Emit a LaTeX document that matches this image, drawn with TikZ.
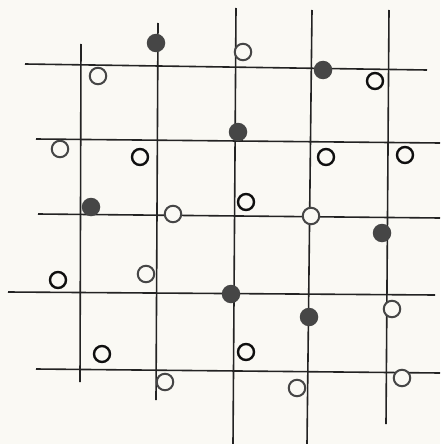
\documentclass[tikz,border=0pt]{standalone}
\definecolor{paper}{RGB}{250,249,244}
\definecolor{linec}{RGB}{35,35,35}
\definecolor{fullc}{RGB}{70,70,70}
\definecolor{openc}{RGB}{15,15,15}
\definecolor{grayc}{RGB}{70,70,70}
\begin{document}
\begin{tikzpicture}[x=1pt,y=-1pt,
  gridline/.style={draw=linec,line width=1.6pt},
  dotfull/.style={circle,fill=fullc,minimum size=18.5pt,inner sep=0pt},
  dotopen/.style={circle,draw=openc,line width=2.4pt,fill=paper,minimum size=16pt,inner sep=0pt},
  dotgray/.style={circle,draw=grayc,line width=2pt,fill=paper,minimum size=16.5pt,inner sep=0pt}]
\fill[paper] (0,0) rectangle (440,444);
\useasboundingbox (0,0) rectangle (440,444);
% horizontal lines
\draw[gridline] (25,64) -- (427,70);
\draw[gridline] (36,139) -- (440,143);
\draw[gridline] (38,214) -- (440,218);
\draw[gridline] (8,292) -- (435,295);
\draw[gridline] (36,369) -- (440,373);
% vertical lines
\draw[gridline] (81,44) -- (80,382);
\draw[gridline] (158,23) -- (156,400);
\draw[gridline] (236,8) -- (233,444);
\draw[gridline] (312,10) -- (307,444);
\draw[gridline] (389,10) -- (386,424);
% filled dots
\node[dotfull] (f1) at (156,43) {};
\node[dotfull] (f2) at (323,70) {};
\node[dotfull] (f3) at (238,132) {};
\node[dotfull] (f4) at (91,207) {};
\node[dotfull] (f5) at (382,233) {};
\node[dotfull] (f6) at (231,294) {};
\node[dotfull] (f7) at (309,317) {};
% open dots
\node[dotgray] (o1) at (98,76) {};
\node[dotgray] (o2) at (243,52) {};
\node[dotopen] (o3) at (375,81) {};
\node[dotgray] (o4) at (60,149) {};
\node[dotopen] (o5) at (140,157) {};
\node[dotopen] (o6) at (326,157) {};
\node[dotopen] (o7) at (405,155) {};
\node[dotgray] (o8) at (173,214) {};
\node[dotopen] (o9) at (246,202) {};
\node[dotgray] (o10) at (311,216) {};
\node[dotopen] (o11) at (58,280) {};
\node[dotgray] (o12) at (146,274) {};
\node[dotopen] (o13) at (102,354) {};
\node[dotgray] (o14) at (165,382) {};
\node[dotopen] (o15) at (246,352) {};
\node[dotgray] (o16) at (297,388) {};
\node[dotgray] (o17) at (392,309) {};
\node[dotgray] (o18) at (402,378) {};
\end{tikzpicture}
\end{document}
